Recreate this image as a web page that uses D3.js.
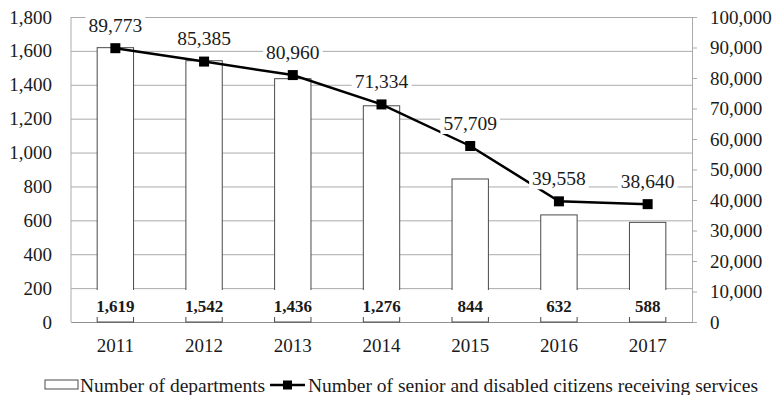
<!DOCTYPE html>
<html>
<head>
<meta charset="utf-8">
<script src="https://cdn.jsdelivr.net/npm/d3@7"></script>
<style>
  body { margin: 0; background: #fff; }
  svg { display: block; }
</style>
</head>
<body>
<svg></svg>
<script>
const w = 777
const h = 395
const serif = 'Liberation Serif'

// data
const years = ['2011', '2012', '2013', '2014', '2015', '2016', '2017']
const departments = [1619, 1542, 1436, 1276, 844, 632, 588]
const citizens = [89773, 85385, 80960, 71334, 57709, 39558, 38640]
const leftTicks = [0, 200, 400, 600, 800, 1000, 1200, 1400, 1600, 1800]
const rightTicks = [0, 10000, 20000, 30000, 40000, 50000, 60000, 70000, 80000, 90000, 100000]

const svg = d3.select('svg')
  .attr('width', w)
  .attr('height', h)
  .attr('font-family', serif)

const margin = {top: 17, right: 85, bottom: 73, left: 71}
const innerWidth = w - margin.left - margin.right
const innerHeight = h - margin.top - margin.bottom

const fmt = d3.format(',')

const xScale = d3.scaleBand()
  .domain(years)
  .range([0, innerWidth])

const yLeft = d3.scaleLinear()
  .domain([0, 1800])
  .range([innerHeight, 0])

const yRight = d3.scaleLinear()
  .domain([0, 100000])
  .range([innerHeight, 0])

const g = svg.append('g')
  .attr('transform', `translate(${margin.left}, ${margin.top})`)

// axis text styling (group + each text)
const styleAxis = sel => {
  sel.attr('font-family', serif).attr('font-size', 19)
  sel.selectAll('text')
    .attr('font-size', 19)
    .attr('font-family', serif)
    .attr('fill', '#1a1a1a')
}

// left axis + gridlines
const yAxisG = g.append('g')
  .call(d3.axisLeft(yLeft).tickValues(leftTicks).tickFormat(fmt).tickSize(-innerWidth).tickPadding(19))
yAxisG.select('.domain').remove()
yAxisG.selectAll('line').attr('stroke', '#ababab')
styleAxis(yAxisG)

// left vertical line
g.append('line')
  .attr('x1', 0).attr('x2', 0)
  .attr('y1', 0).attr('y2', innerHeight)
  .attr('stroke', '#ababab')

// right axis
const yRightG = g.append('g')
  .attr('transform', `translate(${innerWidth}, 0)`)
  .call(d3.axisRight(yRight).tickValues(rightTicks).tickFormat(fmt).tickSize(5).tickPadding(13))
yRightG.select('.domain').attr('stroke', '#ababab')
yRightG.selectAll('line').attr('stroke', '#ababab')
styleAxis(yRightG)

// bottom axis
const xAxisG = g.append('g')
  .attr('transform', `translate(0, ${innerHeight})`)
  .call(d3.axisBottom(xScale).tickSize(0).tickPadding(17))
xAxisG.select('.domain').attr('stroke', '#909090')
styleAxis(xAxisG)

// bars
const barW = xScale.bandwidth() * 0.41
g.selectAll('rect.bar').data(departments)
  .enter().append('rect')
  .attr('class', 'bar')
  .attr('x', (d, i) => xScale(years[i]) + (xScale.bandwidth() - barW) / 2)
  .attr('y', d => yLeft(d))
  .attr('width', barW)
  .attr('height', d => innerHeight - yLeft(d))
  .attr('fill', '#fff')
  .attr('stroke', '#4a4a4a')
  .attr('stroke-width', 1)

// line
const cx = i => xScale(years[i]) + xScale.bandwidth() / 2
const lineGen = d3.line()
  .x((d, i) => cx(i))
  .y(d => yRight(d))

g.append('path')
  .attr('d', lineGen(citizens))
  .attr('fill', 'none')
  .attr('stroke', '#000')
  .attr('stroke-width', 2.5)

g.selectAll('rect.mark').data(citizens)
  .enter().append('rect')
  .attr('class', 'mark')
  .attr('x', (d, i) => cx(i) - 5)
  .attr('y', d => yRight(d) - 5)
  .attr('width', 10)
  .attr('height', 10)
  .attr('fill', '#000')

// line labels with white box
citizens.forEach((d, i) => {
  const lg = g.append('g')
    .attr('transform', `translate(${cx(i)}, ${yRight(d) - 23})`)
  const bg = lg.append('rect').attr('fill', '#fff')
  const t = lg.append('text')
    .attr('text-anchor', 'middle')
    .attr('dy', '0.35em')
    .attr('font-size', 19.5)
    .attr('fill', '#1a1a1a')
    .text(fmt(d))
  const bb = t.node().getBBox()
  bg.attr('x', bb.x - 3).attr('y', -11).attr('width', bb.width + 6).attr('height', 22)
})

// bar labels at base with white box
departments.forEach((d, i) => {
  const lg = g.append('g')
    .attr('transform', `translate(${cx(i)}, ${innerHeight - 16})`)
  const bg = lg.append('rect').attr('fill', '#fff')
  const t = lg.append('text')
    .attr('text-anchor', 'middle')
    .attr('dy', '0.35em')
    .attr('font-size', 17)
    .attr('font-weight', 'bold')
    .attr('fill', '#1a1a1a')
    .text(fmt(d))
  const bb = t.node().getBBox()
  const bw = Math.max(bb.width + 8, barW + 6)
  bg.attr('x', -bw / 2).attr('y', -16).attr('width', bw).attr('height', 27)
})

// legend
const legend = svg.append('g')
  .attr('transform', 'translate(0, 385)')

legend.append('rect')
  .attr('x', 45).attr('y', -5)
  .attr('width', 33).attr('height', 9)
  .attr('fill', '#fff')
  .attr('stroke', '#4a4a4a')

legend.append('text')
  .attr('x', 80).attr('dy', '0.35em')
  .attr('font-size', 19.5)
  .attr('fill', '#1a1a1a')
  .text('Number of departments')

legend.append('line')
  .attr('x1', 270).attr('x2', 305)
  .attr('stroke', '#000').attr('stroke-width', 2.5)

legend.append('rect')
  .attr('x', 283).attr('y', -4.5)
  .attr('width', 9).attr('height', 9)
  .attr('fill', '#000')

legend.append('text')
  .attr('x', 308).attr('dy', '0.35em')
  .attr('font-size', 19.5)
  .attr('fill', '#1a1a1a')
  .text('Number of senior and disabled citizens receiving services')
</script>
</body>
</html>
